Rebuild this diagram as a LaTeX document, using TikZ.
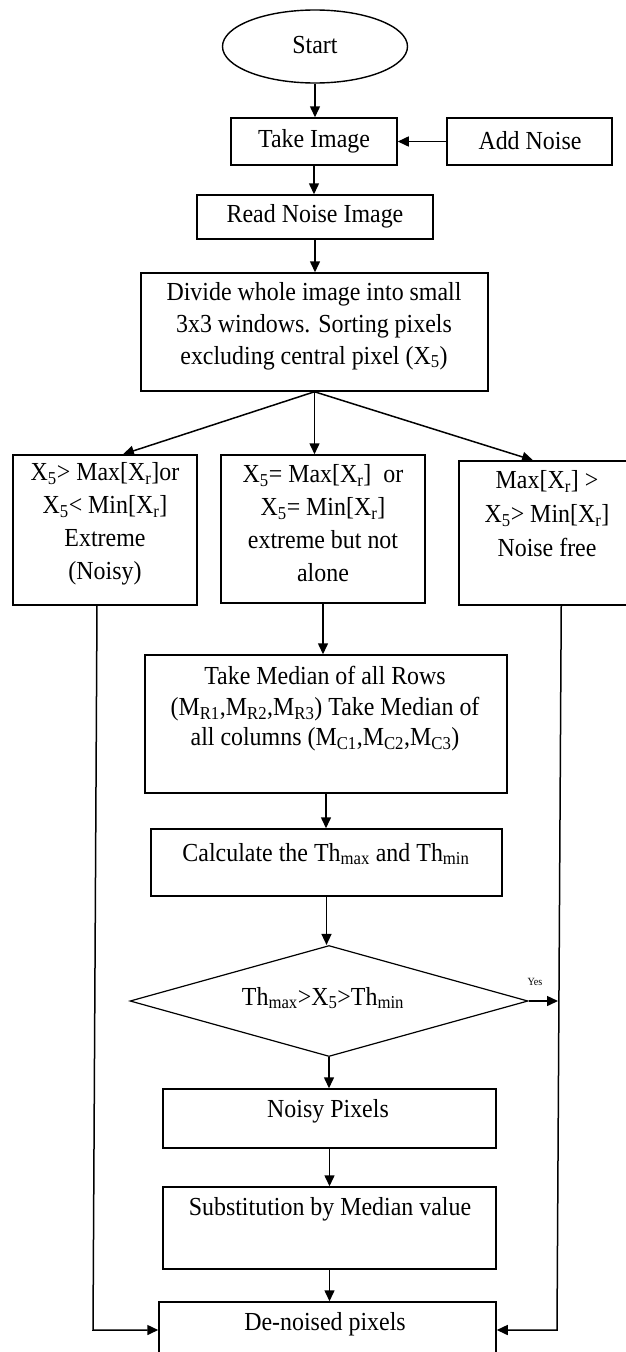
\documentclass[tikz,border=0pt]{standalone}
\usepackage{fontspec}
\setmainfont{Liberation Serif}[FakeStretch=0.92]
\usetikzlibrary{shapes.geometric,arrows.meta,calc}
\newcommand{\sbs}[1]{\textsubscript{#1}}
\begin{document}
\begin{tikzpicture}[x=1pt,y=-1pt,
  box/.style={draw, line width=1.5pt, inner sep=0pt, rectangle},
  txt/.style={align=center, inner sep=0pt, font=\fontsize{26}{33}\selectfont},
  arr/.style={line width=1.5pt, -{Triangle[length=11pt,width=10pt]}}]
\fill[white] (0,0) rectangle (625,1352);
\useasboundingbox (0,0) rectangle (625,1352);

% nodes
\node[draw, ellipse, line width=1.4pt, inner sep=0pt, minimum width=185pt, minimum height=73pt] (start) at (315,46.5) {};
\node[txt] (startT) at (315,45) {Start};

\node[box, minimum width=166pt, minimum height=47pt] (take) at (314,141.5) {};
\node[txt] (takeT) at (314,141) {Take Image};
\node[box, minimum width=165pt, minimum height=47pt] (addn) at (529.5,141.5) {};
\node[txt] (addnT) at (530,141) {Add Noise};

\node[box, minimum width=236pt, minimum height=44pt] (read) at (315,217) {};
\node[txt] (readT) at (315,216) {Read Noise Image};

\node[box, minimum width=347pt, minimum height=118pt] (div) at (314.5,332) {};
\node[txt, font=\fontsize{26}{32}\selectfont] (divT) at (314,326) {Divide whole image into small\\3x3 windows. Sorting pixels\\excluding central pixel (X\sbs{5})};

\node[box, minimum width=184pt, minimum height=150pt] (lb) at (105,530) {};
\node[txt] (lbT) at (105,524) {X\sbs{5}> Max[X\sbs{r}]or\\X\sbs{5}< Min[X\sbs{r}]\\Extreme\\(Noisy)};

\node[box, minimum width=204pt, minimum height=148pt] (mb) at (323,529) {};
\node[txt] (mbT) at (323,523) {X\sbs{5}= Max[X\sbs{r}]~ or\\X\sbs{5}= Min[X\sbs{r}]\\extreme but not\\alone};

\node[box, minimum width=186pt, minimum height=144pt] (rb) at (552,533) {};
\node[txt, font=\fontsize{26}{34}\selectfont] (rbT) at (547,514) {Max[X\sbs{r}] >\\X\sbs{5}> Min[X\sbs{r}]\\Noise free};

\node[box, minimum width=362pt, minimum height=138pt] (med) at (326,724) {};
\node[txt, font=\fontsize{26}{30.5}\selectfont] (medT) at (325,709) {Take Median of all Rows\\(M\sbs{R1},M\sbs{R2},M\sbs{R3}) Take Median of\\all columns (M\sbs{C1},M\sbs{C2},M\sbs{C3})};

\node[box, minimum width=351pt, minimum height=67pt] (calc) at (326.5,862.5) {};
\node[txt] (calcT) at (326,854) {Calculate the Th\sbs{max} and Th\sbs{min}};

\node[draw, diamond, line width=1.2pt, inner sep=0pt, minimum width=398pt, minimum height=111pt] (dia) at (329,1001) {};
\node[txt] (diaT) at (323,998) {Th\sbs{max}>X\sbs{5}>Th\sbs{min}};
\node[txt, font=\fontsize{11}{13}\selectfont] (yes) at (535,982) {Yes};

\node[box, minimum width=333pt, minimum height=59pt] (noisy) at (329.5,1118.5) {};
\node[txt] (noisyT) at (328,1111) {Noisy Pixels};

\node[box, minimum width=333pt, minimum height=82pt] (sub) at (329.5,1228) {};
\node[txt] (subT) at (330,1209) {Substitution by Median value};

\node[box, minimum width=337pt, minimum height=56pt] (den) at (327.5,1330) {};
\node[txt] (denT) at (325,1324) {De-noised pixels};

% connectors
\draw[arr] (start.south) -- (start.south |- take.north);
\draw[arr] (addn.west) -- (take.east);
\draw[arr] (take.south) -- (take.south |- read.north);
\draw[arr] (read.south) -- (read.south |- div.north);
\draw[arr] (div.south) -- ([xshift=18pt]lb.north);
\draw[arr] (div.south) -- (div.south |- mb.north);
\draw[arr] (div.south) -- ([xshift=-19pt]rb.north);
\draw[arr] (mb.south) -- (mb.south |- med.north);
\draw[arr] (med.south) -- (med.south |- calc.north);
\draw[arr] (calc.south) -- (calc.south |- dia.north);
\draw[arr] (dia.south) -- (dia.south |- noisy.north);
\draw[arr] (noisy.south) -- (noisy.south |- sub.north);
\draw[arr] (sub.south) -- (sub.south |- den.north);

\coordinate (lc) at (93,1330);
\draw[arr] ([xshift=-8pt]lb.south) -- (lc) -- (den.west);
\coordinate (rc) at (557,1330);
\draw[arr] ([xshift=103pt]rb.south west) -- (rc) -- (den.east);
\coordinate (yy) at (558,1001);
\draw[arr] (dia.east) -- (yy);
\end{tikzpicture}
\end{document}
